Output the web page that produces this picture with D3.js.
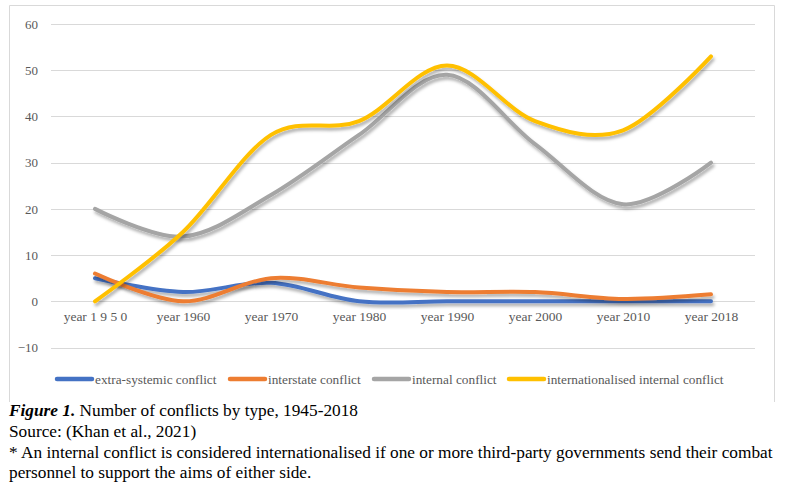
<!DOCTYPE html>
<html>
<head>
<meta charset="utf-8">
<script src="https://cdn.jsdelivr.net/npm/d3@7"></script>
<style>
  body { margin: 0; background: #fff; }
  svg text { font-family: "Liberation Serif", "Times New Roman", serif; }
</style>
</head>
<body>
<div id="chart"></div>
<script>
const categories = ["year 1 9 5 0", "year 1960", "year 1970", "year 1980", "year 1990", "year 2000", "year 2010", "year 2018"];
const seriesNames = ["extra-systemic conflict", "interstate conflict", "internal conflict", "internationalised internal conflict"];
const extraSystemic = [5, 2, 4, 0, 0, 0, 0, 0];
const interstate = [6, 0, 5, 3, 2, 2, 0.5, 1.5];
const internal = [20, 14, 23, 36, 49, 34, 21, 30];
const internationalised = [0, 15, 36, 39, 51, 39, 37, 53];
const yTicks = [-10, 0, 10, 20, 30, 40, 50, 60];
const colors = ["#4472C4", "#ED7D31", "#A5A5A5", "#FFC000"];
const captionLines = [
  "Number of conflicts by type, 1945-2018",
  "Source: (Khan et al., 2021)",
  "* An internal conflict is considered internationalised if one or more third-party governments send their combat",
  "personnel to support the aims of either side."
];

const series = [extraSystemic, interstate, internal, internationalised];

const width = 785, height = 487;
const svg = d3.select("#chart").append("svg")
  .attr("width", width)
  .attr("height", height);

// drop shadow like the office chart
const defs = svg.append("defs");
defs.append("filter")
  .attr("id", "shadow")
  .attr("x", "-10%").attr("y", "-10%")
  .attr("width", "130%").attr("height", "140%")
  .append("feDropShadow")
  .attr("dx", 1.5).attr("dy", 3)
  .attr("stdDeviation", 1.8)
  .attr("flood-color", "#000")
  .attr("flood-opacity", 0.3);

// chart frame (top, left, right)
svg.append("path")
  .attr("d", "M9.5,402 V5.5 H774.5 V402")
  .attr("fill", "none")
  .attr("stroke", "#d9d9d9");

const x = d3.scalePoint()
  .domain(categories)
  .range([51, 755])
  .padding(0.5);

const y = d3.scaleLinear()
  .domain([-10, 60])
  .range([347.5, 24]);

// gridlines
svg.append("g")
  .selectAll("line")
  .data(yTicks)
  .join("line")
  .attr("x1", 51).attr("x2", 755)
  .attr("y1", d => Math.round(y(d)) + 0.5)
  .attr("y2", d => Math.round(y(d)) + 0.5)
  .attr("stroke", "#d9d9d9");

// y axis labels
const yAxis = svg.append("g")
  .attr("transform", "translate(38,0)")
  .call(d3.axisLeft(y).tickValues(yTicks).tickSize(0).tickPadding(0));
yAxis.select(".domain").remove();
yAxis.selectAll("text")
  .attr("font-size", 13)
  .attr("fill", "#595959");

// x axis labels
const xAxis = svg.append("g")
  .attr("transform", `translate(0,${y(0)})`)
  .call(d3.axisBottom(x).tickSize(0).tickPadding(10));
xAxis.select(".domain").remove();
xAxis.selectAll("text")
  .attr("font-size", 13.5)
  .attr("fill", "#595959");

// lines
const line = d3.line()
  .x((d, i) => x(categories[i]))
  .y(d => y(d))
  .curve(d3.curveCardinal.tension(0));

svg.append("g")
  .selectAll("path")
  .data(series)
  .join("path")
  .attr("d", d => line(d))
  .attr("fill", "none")
  .attr("stroke", (d, i) => colors[i])
  .attr("stroke-width", 4)
  .attr("stroke-linecap", "round")
  .attr("stroke-linejoin", "round")
  .attr("filter", "url(#shadow)");

// legend
const legendX = [57, 230, 374, 509];
const legend = svg.append("g").attr("transform", "translate(0,379)");
const item = legend.selectAll("g")
  .data(seriesNames)
  .join("g")
  .attr("transform", (d, i) => `translate(${legendX[i]},0)`);
item.append("line")
  .attr("x1", 0).attr("x2", 35)
  .attr("stroke", (d, i) => colors[i])
  .attr("stroke-width", 4.5)
  .attr("stroke-linecap", "round");
item.append("text")
  .attr("x", 38)
  .attr("dy", "0.35em")
  .attr("font-size", 13.3)
  .attr("fill", "#595959")
  .text(d => d);

// caption
const cap = svg.append("g")
  .attr("font-size", 17.3)
  .attr("fill", "#000");
const first = cap.append("text").attr("x", 9).attr("y", 416);
first.append("tspan").attr("font-weight", "bold").attr("font-style", "italic").text("Figure 1.");
first.append("tspan").text(" " + captionLines[0]);
cap.selectAll("text.more")
  .data(captionLines.slice(1))
  .join("text")
  .attr("class", "more")
  .attr("x", 9)
  .attr("y", (d, i) => 437 + i * 20.5)
  .text(d => d);
</script>
</body>
</html>
